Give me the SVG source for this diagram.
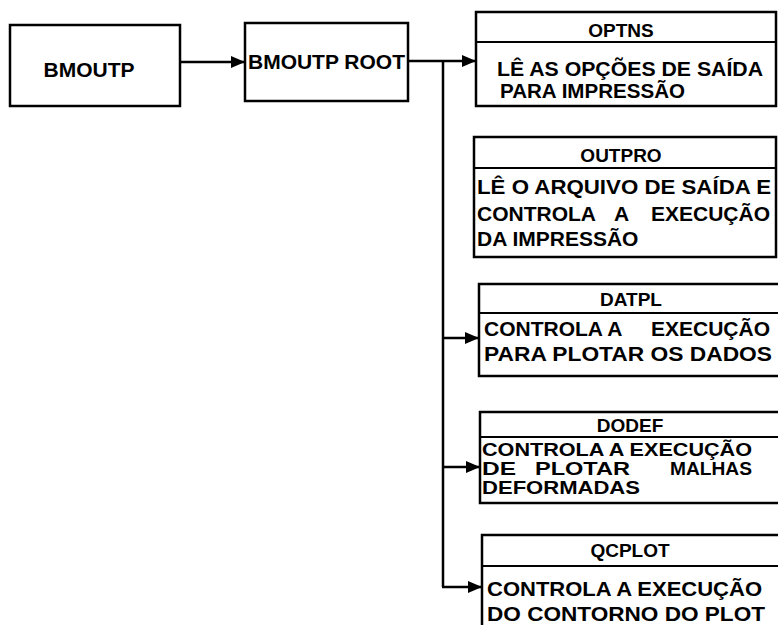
<svg xmlns="http://www.w3.org/2000/svg" width="778" height="625" viewBox="0 0 778 625">
<style>
.box{fill:#fff;stroke:#000;stroke-width:2.5}
.div{stroke:#000;stroke-width:1.8}
.conn{fill:none;stroke:#000;stroke-width:2.5}
text{font-family:"Liberation Sans",Arial,sans-serif;font-weight:bold;fill:#000}
.t{font-size:19px;text-anchor:middle}
.b{font-size:21px}
.s{font-size:18px}
</style>
<defs>
<marker id="ah" markerUnits="userSpaceOnUse" markerWidth="14" markerHeight="12" refX="13" refY="6" orient="auto">
<path d="M0,0 L14,6 L0,12 Z" fill="#000"/>
</marker>
</defs>
<rect width="778" height="625" fill="#fff"/>
<g id="connectors">
<line class="conn" x1="180" y1="62" x2="244" y2="62" marker-end="url(#ah)"/>
<line class="conn" x1="408" y1="61" x2="475" y2="61" marker-end="url(#ah)"/>
<line class="conn" x1="443" y1="61" x2="443" y2="587"/>
<line class="conn" x1="443" y1="338" x2="478" y2="338" marker-end="url(#ah)"/>
<line class="conn" x1="443" y1="467" x2="479" y2="467" marker-end="url(#ah)"/>
<line class="conn" x1="442" y1="587" x2="481" y2="587" marker-end="url(#ah)"/>
</g>
<g id="bmoutp">
<rect class="box" x="10" y="25" width="170" height="81"/>
<text class="b" x="89" y="77" text-anchor="middle">BMOUTP</text>
</g>
<g id="bmoutp-root">
<rect class="box" x="245" y="23" width="163" height="78"/>
<text class="b" x="248" y="69" textLength="157" lengthAdjust="spacingAndGlyphs">BMOUTP ROOT</text>
</g>
<g id="optns">
<rect class="box" x="476" y="12" width="300" height="94"/>
<line class="div" x1="476" y1="42" x2="776" y2="42"/>
<text class="t" x="621" y="37">OPTNS</text>
<text class="b" x="497" y="76" textLength="266" lengthAdjust="spacingAndGlyphs">LÊ AS OPÇÕES DE SAÍDA</text>
<text class="b" x="500" y="98" textLength="185" lengthAdjust="spacingAndGlyphs">PARA IMPRESSÃO</text>
</g>
<g id="outpro">
<rect class="box" x="474" y="137" width="302" height="120"/>
<line class="div" x1="474" y1="168" x2="776" y2="168"/>
<text class="t" x="621" y="162">OUTPRO</text>
<text class="b" x="477" y="194" textLength="294" lengthAdjust="spacingAndGlyphs">LÊ O ARQUIVO DE SAÍDA E</text>
<text class="b" y="221"><tspan x="477">CONTROLA</tspan><tspan x="614">A</tspan><tspan x="770" text-anchor="end">EXECUÇÃO</tspan></text>
<text class="b" x="477" y="246">DA IMPRESSÃO</text>
</g>
<g id="datpl">
<rect class="box" x="479" y="284" width="310" height="92"/>
<line class="div" x1="479" y1="313" x2="778" y2="313"/>
<text class="t" x="631" y="306">DATPL</text>
<text class="b" y="336"><tspan x="484">CONTROLA A</tspan><tspan x="770" text-anchor="end">EXECUÇÃO</tspan></text>
<text class="b" x="484" y="361" textLength="288" lengthAdjust="spacingAndGlyphs">PARA PLOTAR OS DADOS</text>
</g>
<g id="dodef">
<rect class="box" x="480" y="412" width="310" height="91"/>
<line class="div" x1="480" y1="437" x2="778" y2="437"/>
<text class="t" x="630" y="432">DODEF</text>
<text class="s" x="482" y="456" textLength="270" lengthAdjust="spacingAndGlyphs">CONTROLA A EXECUÇÃO</text>
<text class="s" x="482" y="475" textLength="34" lengthAdjust="spacingAndGlyphs">DE</text>
<text class="s" x="535" y="475" textLength="95" lengthAdjust="spacingAndGlyphs">PLOTAR</text>
<text class="s" x="670" y="475" textLength="82" lengthAdjust="spacingAndGlyphs">MALHAS</text>
<text class="s" x="482" y="494" textLength="158" lengthAdjust="spacingAndGlyphs">DEFORMADAS</text>
</g>
<g id="qcplot">
<rect class="box" x="482" y="535" width="310" height="100"/>
<line class="div" x1="482" y1="566" x2="778" y2="566"/>
<text class="t" x="630" y="557">QCPLOT</text>
<text class="b" x="487" y="596" textLength="275" lengthAdjust="spacingAndGlyphs">CONTROLA A EXECUÇÃO</text>
<text class="b" x="487" y="621" textLength="278" lengthAdjust="spacingAndGlyphs">DO CONTORNO DO PLOT</text>
</g>
</svg>
